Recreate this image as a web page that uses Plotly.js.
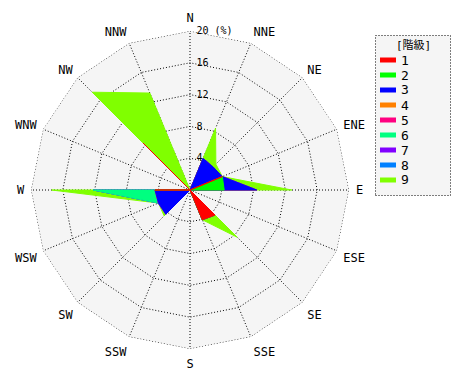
<!DOCTYPE html>
<html><head><meta charset="utf-8">
<script src="https://cdn.plot.ly/plotly-3.0.1.min.js"></script>
<style>body{margin:0;background:#fff}#chart{width:470px;height:380px}</style>
</head><body><div id="chart"></div>
<script>
const directions = ['N','NNE','NE','ENE','E','ESE','SE','SSE','S','SSW','SW','WSW','W','WNW','NW','NNW'];
const classes = ['1','2','3','4','5','6','7','8','9'];
const colors = ['#ff0000','#00ff00','#0000ff','#ff8000','#ff0080','#00ff80','#8000ff','#0080ff','#80ff00'];
const radialTicks = [4,8,12,16,20];
const radialTickText = ['4','8','12','16','20 (%)'];
const radialMax = 20;
// frequency (%) of each class by direction (N, NNE, ... NNW)
const class1 = [0,0,0,4.4,0,0,4.45,4.05,0,0,0,0,4.4,0,8.3,0];
const class2 = [0,0,0,0,4.3,0,0,0,0,0,0,0,0,0,0,0];
const class3 = [0,4.3,4.1,0,4.1,0,0,0,0,0,4.3,4.3,0,0,0,0];
const class4 = [0,0,0,0,0,0,0,0,0,0,0,0,0,0,0,0];
const class5 = [0,0,0,0,0,0,0,0,0,0,0,0,0,0,0,0];
const class6 = [0,0,0,0,0,0,0,0,0,0,0,0,7.8,0,0,0];
const class7 = [0,0,0,0,0,0,0,0,0,0,0,0,0,0,0,0];
const class8 = [0,0,0,0,0,0,0,0,0,0,0,0,0,0,0,0];
const class9 = [0,4.1,0.5,0,4.4,0,3.95,0,0,0,0.3,0,5.2,0,9.1,13.2];
const classValues = [class1,class2,class3,class4,class5,class6,class7,class8,class9];

// stacked (cumulative) values
const cum = [];
classValues.forEach((arr,i)=>{
  cum.push(arr.map((v,j)=> v + (i>0 ? cum[i-1][j] : 0)));
});

const font = "'DejaVu Sans Mono', 'Noto Sans CJK JP', monospace";
const traces = [];
for (let i = classes.length-1; i >= 0; i--) {
  traces.push({
    type:'scatterpolar',
    r: cum[i].concat([cum[i][0]]),
    theta: directions.concat([directions[0]]),
    mode:'lines',
    fill:'toself',
    fillcolor: colors[i],
    line:{color: colors[i], width:1},
    name: classes[i],
    showlegend:false,
    hoverinfo:'skip'
  });
}
// outer dotted frame of the rose (20 % ring)
traces.push({
  type:'scatterpolar',
  r: directions.map(()=>radialMax).concat([radialMax]),
  theta: directions.concat([directions[0]]),
  mode:'lines', line:{color:'#000', width:1, dash:'1px,2px'},
  cliponaxis:false, showlegend:false, hoverinfo:'skip'
});

const W = 470, H = 380;
const cx = 190, cy = 190, R = 159;
const shapes = [{
  type:'rect', xref:'paper', yref:'paper',
  x0: 375.5/W, x1: 450.5/W, y0: 1-195.5/H, y1: 1-35.5/H,
  fillcolor:'#f5f5f5', line:{color:'#000', width:1, dash:'1px,2px'}, layer:'below'
}];
const annotations = [{
  xref:'paper', yref:'paper', x: 413/W, y: 1-45/H, text:'[階級]', showarrow:false,
  xanchor:'center', yanchor:'middle', font:{family:font, size:11, color:'#000'}
}];
classes.forEach((c,i)=>{
  const y = 60 + 15*i;
  shapes.push({type:'rect', xref:'paper', yref:'paper', x0:380/W, x1:396/W, y0:1-(y+2.5)/H, y1:1-(y-2.5)/H,
    fillcolor: colors[i], line:{width:0}});
  annotations.push({xref:'paper', yref:'paper', x:399/W, y:1-y/H, text:c, showarrow:false,
    xanchor:'left', yanchor:'middle', font:{family:font, size:13, color:'#000'}});
});

// a small left pad keeps the labels clear of the N axis line
const paddedTickText = radialTickText.map(t => '\u2002' + t);

const layout = {
  width: W, height: H,
  margin:{l:0,r:0,t:0,b:0},
  paper_bgcolor:'#fff',
  showlegend:false,
  font:{family:font, color:'#000'},
  polar:{
    domain:{x:[(cx-R)/W,(cx+R)/W], y:[(H-cy-R)/H,(H-cy+R)/H]},
    bgcolor:'#f5f5f5',
    gridshape:'linear',
    radialaxis:{
      range:[0,radialMax], tickvals: radialTicks, ticktext: paddedTickText,
      angle:90, side:'clockwise', showline:false, ticks:'', tickangle:90,
      gridcolor:'#000', griddash:'1px,2px', gridwidth:1,
      tickfont:{family:font, size:10, color:'#000'}
    },
    angularaxis:{
      type:'category', categoryarray: directions, direction:'clockwise', rotation:90,
      gridcolor:'#000', griddash:'1px,2px', gridwidth:1, showline:false,
      ticks:'outside', ticklen:4, tickcolor:'rgba(0,0,0,0)',
      tickfont:{family:font, size:12, color:'#000'}
    }
  },
  shapes: shapes,
  annotations: annotations
};
Plotly.newPlot('chart', traces, layout, {displayModeBar:false, staticPlot:true});
</script>
</body></html>
